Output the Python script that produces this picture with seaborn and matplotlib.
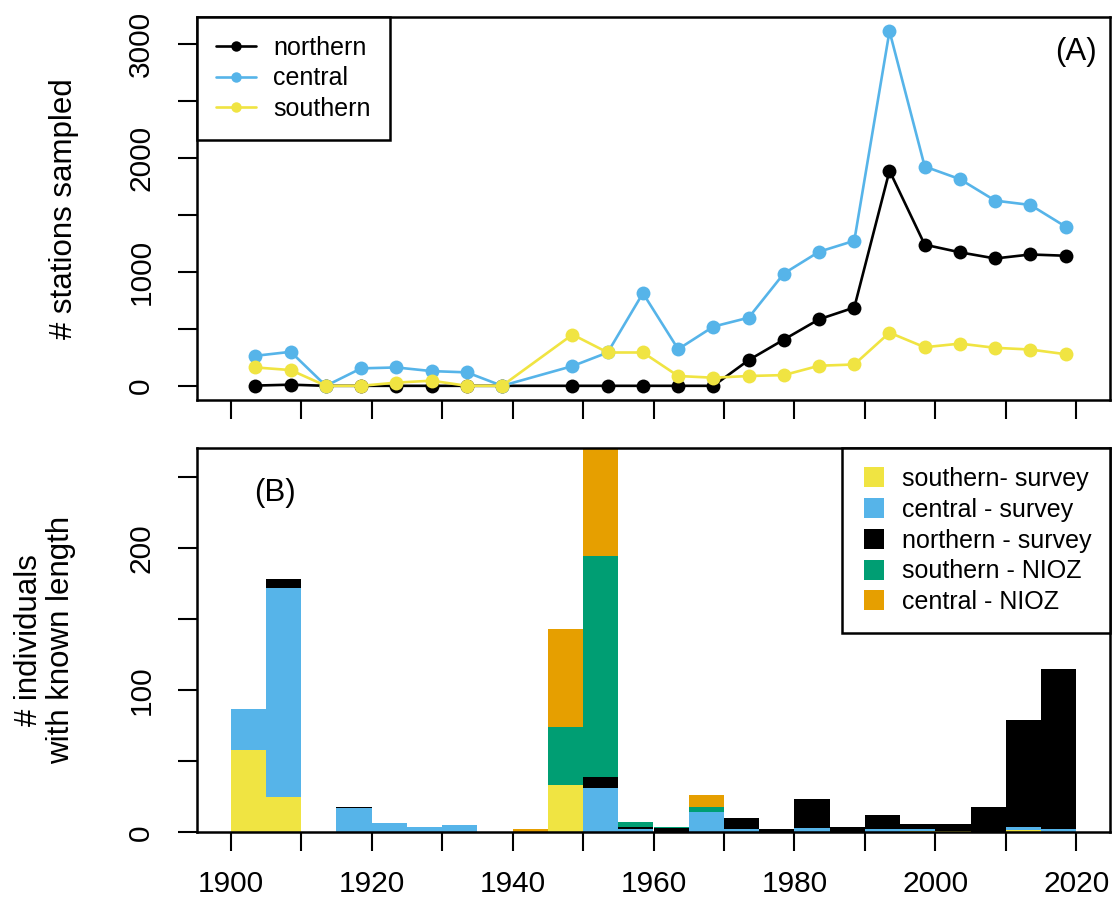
import numpy as np
import pandas as pd
import matplotlib
matplotlib.use("Agg")
import matplotlib.pyplot as plt
import seaborn as sns
from matplotlib.lines import Line2D
from matplotlib.ticker import FixedLocator, FuncFormatter

# ---------------- Panel A data: stations sampled ----------------
years_a = [1903.5, 1908.5, 1913.5, 1918.5, 1923.5, 1928.5, 1933.5, 1938.5,
           1948.5, 1953.5, 1958.5, 1963.5, 1968.5, 1973.5, 1978.5, 1983.5,
           1988.5, 1993.5, 1998.5, 2003.5, 2008.5, 2013.5, 2018.5]
northern = [2, 10, 0, 0, 0, 0, 0, 0,
            0, 0, 0, 0, 0, 225, 405, 583, 686, 1885, 1237, 1170, 1116, 1151, 1140]
central = [263, 298, 0, 153, 161, 129, 118, 0,
           173, 292, 812, 321, 519, 597, 984, 1175, 1271, 3108, 1922, 1811, 1623, 1585, 1395]
southern = [161, 138, 0, 0, 28, 45, 0, 0,
            449, 292, 292, 86, 71, 86, 94, 176, 187, 466, 338, 370, 333, 318, 277]
regions = ["northern", "central", "southern"]

# ---------------- Panel B data: individuals with known length (5-yr bins) ----------------
bin_left = [1900, 1905, 1910, 1915, 1920, 1925, 1930, 1935, 1940, 1945, 1950, 1955,
            1960, 1965, 1970, 1975, 1980, 1985, 1990, 1995, 2000, 2005, 2010, 2015]
southern_survey = [58, 25, 0, 0, 0, 0, 0, 0, 0, 33, 0, 0,
                   0, 0, 0, 0, 0, 0, 0, 1, 1, 0, 1.5, 0]
central_survey = [29, 147, 0, 17, 6.5, 4, 5, 0, 0, 0, 31, 2,
                  0, 14, 2, 0, 3, 0, 2, 1, 0, 0, 2, 2.5]
northern_survey = [0, 6, 0, 1, 0, 0, 0, 0, 0, 0, 8, 1.5,
                   3, 0, 8, 2.6, 20.7, 4, 10, 4, 5, 17.5, 75.5, 112]
southern_nioz = [0, 0, 0, 0, 0, 0, 0, 0, 0, 41, 155, 4,
                 0.7, 4, 0, 0, 0, 0, 0, 0, 0, 0, 0, 0]
central_nioz = [0, 0, 0, 0, 0, 0, 0, 0, 2, 69, 80, 0,
                0, 8, 0, 0, 0, 0, 0, 0, 0, 0, 0, 0]
groups = ["southern- survey", "central - survey", "northern - survey",
          "southern - NIOZ", "central - NIOZ"]

# ---------------- colours ----------------
C_BLACK = "#000000"
C_BLUE = "#56B4E9"
C_YELLOW = "#F0E442"
C_GREEN = "#009E73"
C_ORANGE = "#E69F00"
line_pal = {"northern": C_BLACK, "central": C_BLUE, "southern": C_YELLOW}
bar_pal = dict(zip(groups, [C_YELLOW, C_BLUE, C_BLACK, C_GREEN, C_ORANGE]))

# ---------------- style ----------------
sns.set_style("ticks")
plt.rcParams["font.family"] = ["Liberation Sans", "DejaVu Sans"]
plt.rcParams["axes.linewidth"] = 1.8
plt.rcParams["axes.edgecolor"] = "black"
plt.rcParams["text.color"] = "black"
plt.rcParams["axes.labelcolor"] = "black"
plt.rcParams["xtick.color"] = "black"
plt.rcParams["ytick.color"] = "black"
plt.rcParams["xtick.labelcolor"] = "black"
plt.rcParams["ytick.labelcolor"] = "black"

TICK_FS = 21.5
LAB_FS = 22.5
LEG_FS = 18

fig = plt.figure(figsize=(11.2, 9.09), dpi=100)
axA = fig.add_axes([197 / 1120, 1 - 400 / 909, 913 / 1120, 383 / 909])
axB = fig.add_axes([197 / 1120, 1 - 832.3 / 909, 913 / 1120, 384 / 909])

# ---------------- Panel A ----------------
dfA = pd.DataFrame({
    "year": years_a * 3,
    "stations": northern + central + southern,
    "region": np.repeat(regions, len(years_a)),
})
for reg in regions:
    sns.lineplot(data=dfA[dfA["region"] == reg], x="year", y="stations",
                 color=line_pal[reg], marker="o", markersize=10,
                 markeredgewidth=0, linewidth=1.9, errorbar=None,
                 legend=False, ax=axA)

axA.set_xlim(1895.2, 2024.8)
axA.set_ylim(-124.3, 3232.3)
axA.set_xlabel("")
axA.set_ylabel("# stations sampled", fontsize=LAB_FS, va="center", color="black")
axA.yaxis.set_label_coords((64 - 197) / 913, 0.5)

# ---------------- Panel B ----------------
rows = []
for g, vals in zip(groups, [southern_survey, central_survey, northern_survey,
                            southern_nioz, central_nioz]):
    for b, v in zip(bin_left, vals):
        rows.append({"mid": b + 2.5, "count": v, "group": g})
dfB = pd.DataFrame(rows)
sns.histplot(data=dfB, x="mid", weights="count", hue="group",
             hue_order=groups[::-1], palette=bar_pal, multiple="stack",
             binwidth=5, binrange=(1900, 2020), alpha=1, linewidth=0,
             legend=False, ax=axB)

axB.set_xlim(1895.2, 2024.8)
axB.set_ylim(0, 270)
axB.set_xlabel("")
axB.set_ylabel("# individuals\nwith known length", fontsize=LAB_FS, va="center",
               linespacing=1.1, color="black")
axB.yaxis.set_label_coords((45 - 197) / 913, 0.5)

# ---------------- ticks ----------------
xt = list(range(1900, 2021, 10))
for ax, show_x in ((axA, False), (axB, True)):
    ax.xaxis.set_major_locator(FixedLocator(xt))
    if show_x:
        ax.xaxis.set_major_formatter(FuncFormatter(
            lambda v, p: f"{int(round(v))}" if int(round(v)) % 20 == 0 else ""))
    else:
        ax.xaxis.set_major_formatter(FuncFormatter(lambda v, p: ""))
    ax.tick_params(axis="both", direction="out", length=14, width=1.5,
                   labelsize=TICK_FS, color="black", labelcolor="black")
    ax.tick_params(axis="x", pad=13)
    ax.tick_params(axis="y", pad=16)
    for s in ax.spines.values():
        s.set_visible(True)
        s.set_linewidth(1.8)
        s.set_color("black")

axA.yaxis.set_major_locator(FixedLocator(list(range(0, 3001, 500))))
axA.yaxis.set_major_formatter(FuncFormatter(
    lambda v, p: f"{int(v)}" if int(v) % 1000 == 0 else ""))
axB.yaxis.set_major_locator(FixedLocator(list(range(0, 251, 50))))
axB.yaxis.set_major_formatter(FuncFormatter(
    lambda v, p: f"{int(v)}" if int(v) % 100 == 0 else ""))
for ax in (axA, axB):
    for lab in ax.get_yticklabels():
        lab.set_rotation(90)
        lab.set_va("center")

# ---------------- panel labels ----------------
axA.text(0.9628, 0.9086, "(A)", transform=axA.transAxes, fontsize=LAB_FS,
         ha="center", va="center", color="black")
axB.text(0.0854, 0.8836, "(B)", transform=axB.transAxes, fontsize=LAB_FS,
         ha="center", va="center", color="black")

# ---------------- legends ----------------
hA = [Line2D([0], [0], color=line_pal[r], marker="o", markersize=7.5,
             markeredgewidth=0, linewidth=1.9) for r in regions]
legA = axA.legend(hA, regions, loc="upper left", bbox_to_anchor=(0, 1),
                  borderaxespad=0, fontsize=LEG_FS, frameon=True, fancybox=False,
                  framealpha=1, edgecolor="black", handlelength=1.6,
                  handletextpad=0.7, labelspacing=0.26, borderpad=0.75,
                  labelcolor="black")
legA.get_frame().set_linewidth(1.8)

hB = [Line2D([0], [0], color=bar_pal[g], marker="s", markersize=14,
             markeredgewidth=0, linestyle="none") for g in groups]
legB = axB.legend(hB, groups, loc="upper right", bbox_to_anchor=(1, 1),
                  borderaxespad=0, fontsize=LEG_FS, frameon=True, fancybox=False,
                  framealpha=1, edgecolor="black", handlelength=1.06,
                  handletextpad=0.6, labelspacing=0.27, borderpad=0.75,
                  labelcolor="black")
legB.get_frame().set_linewidth(1.8)

fig.savefig("out.png", dpi=100)
